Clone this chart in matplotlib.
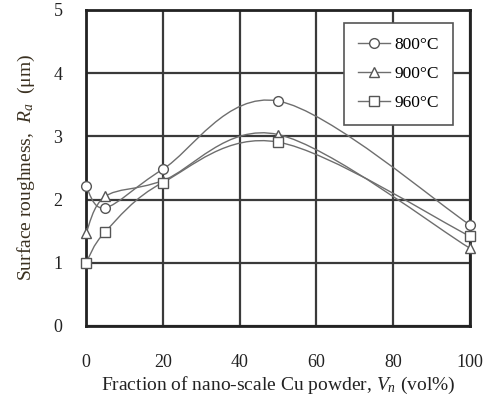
import numpy as np
import matplotlib
matplotlib.use("Agg")
import matplotlib.pyplot as plt
from matplotlib.path import Path
from matplotlib.patches import PathPatch
from matplotlib.lines import Line2D

plt.rcParams['font.family'] = ['Liberation Serif', 'DejaVu Serif']
plt.rcParams['mathtext.fontset'] = 'custom'
plt.rcParams['mathtext.it'] = 'Liberation Serif:italic'
plt.rcParams['mathtext.rm'] = 'Liberation Serif'

x_vals = [0, 5, 20, 50, 100]
ra_800 = [2.21, 1.87, 2.48, 3.56, 1.60]
ra_900 = [1.47, 2.05, 2.30, 3.03, 1.23]
ra_960 = [1.00, 1.49, 2.27, 2.91, 1.42]
labels = ["800°C", "900°C", "960°C"]
markers = ["o", "^", "s"]
x_ticks = [0, 20, 40, 60, 80, 100]
y_ticks = [0, 1, 2, 3, 4, 5]

fig = plt.figure(figsize=(4.89, 3.98), dpi=100)
ax = fig.add_axes([86/489, 1-326/398, (470-86)/489, (326-10)/398])

def smooth_path(xs, ys, t=1/6):
    xs = np.asarray(xs, float); ys = np.asarray(ys, float)
    pts = np.column_stack([xs, ys])
    verts = [pts[0]]; codes = [Path.MOVETO]
    n = len(pts)
    for i in range(n - 1):
        p0 = pts[i - 1] if i > 0 else pts[i]
        p1 = pts[i]; p2 = pts[i + 1]
        p3 = pts[i + 2] if i + 2 < n else pts[i + 1]
        c1 = p1 + (p2 - p0) * t
        c2 = p2 - (p3 - p1) * t
        verts += [c1, c2, p2]
        codes += [Path.CURVE4] * 3
    return Path(verts, codes)

line_col = '#6e6e6e'
for ys, m, lab in zip([ra_800, ra_900, ra_960], markers, labels):
    ax.add_patch(PathPatch(smooth_path(x_vals, ys), fill=False, edgecolor=line_col, lw=1.0, zorder=3))
    ax.plot(x_vals, ys, linestyle='none', marker=m, markersize=7, markerfacecolor='white',
            markeredgecolor='#555555', markeredgewidth=1.0, zorder=4, clip_on=False)

ax.set_xlim(0, 100)
ax.set_ylim(0, 5)
ax.set_xticks(x_ticks)
ax.set_yticks(y_ticks)
ax.grid(True, color='#3a3a3a', lw=1.6)
ax.set_axisbelow(True)
for s in ax.spines.values():
    s.set_linewidth(2.0)
    s.set_color('#222222')
ax.tick_params(length=0, labelsize=13, colors='#222222')
ax.tick_params(axis='y', pad=17)
ax.tick_params(axis='x', pad=20)

ax.set_xlabel("Fraction of nano-scale Cu powder, $V_n$ (vol%)", fontsize=14, color='#222222', labelpad=3)
ax.set_ylabel("Surface roughness,  $R_a$  (μm)", fontsize=14, color='#3a3020', labelpad=12)

handles = [Line2D([], [], color=line_col, lw=1.0, marker=m, markersize=7, markerfacecolor='white',
                  markeredgecolor='#555555') for m in markers]
leg = ax.legend(handles, labels, loc='upper right', bbox_to_anchor=(0.956, 0.959), borderaxespad=0,
                fontsize=12.5, frameon=True, fancybox=False, framealpha=1, edgecolor='#555555',
                handlelength=1.8, handletextpad=0.3, labelspacing=0.75, borderpad=0.8)
leg.get_frame().set_linewidth(1.2)

fig.savefig("out.png", dpi=100)
